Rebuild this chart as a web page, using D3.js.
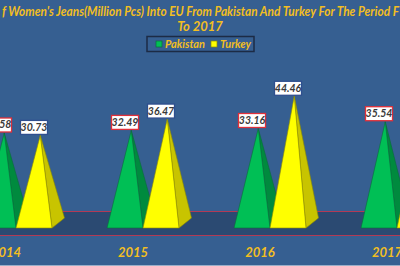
<!DOCTYPE html>
<html><head><meta charset="utf-8">
<script src="https://cdn.jsdelivr.net/npm/d3@7"></script>
<style>html,body{margin:0;padding:0;background:#365F91;overflow:hidden}</style>
</head><body>
<svg id="c" width="400" height="266"></svg>
<script>
const categories = ["2014","2015","2016","2017"];
const seriesNames = ["Pakistan","Turkey"];
const pakistan = [31.58, 32.49, 33.16, 35.54];
const turkey = [30.73, 36.47, 44.46, 38.20];
const titleParts = ["Export O", "f Women's Jeans(Million Pcs) Into EU From Pakistan And Turkey For The Period F", "rom 2014"];
const titleLine2 = "To 2017";

const colors = {Pakistan:{front:"#00BF55", side:"#008A3E", edge:"#0A6B3A", box:"#E0303A"},
                Turkey:{front:"#FFFF00", side:"#C8C400", edge:"#8F8C00", box:"#2F4F8F"}};
const gold = "#F2BE22";
const font = "Lato, 'Open Sans', sans-serif";

const svg = d3.select("#c");
const W = 400, H = 266;
svg.append("rect").attr("width",W).attr("height",H).attr("fill","#365F91");

// floor
const floorTop = 211, floorBot = 235;
svg.append("rect").attr("x",0).attr("y",floorTop).attr("width",W).attr("height",floorBot-floorTop).attr("fill","#2B4A72");
[floorTop, floorBot].forEach(y=>svg.append("line").attr("x1",0).attr("x2",W).attr("y1",y+0.5).attr("y2",y+0.5).attr("stroke","#B23A55").attr("stroke-width",1));
svg.append("line").attr("x1",0).attr("x2",W).attr("y1",265.5).attr("y2",265.5).attr("stroke","#9AAEC8").attr("stroke-width",1);

const x = d3.scaleBand().domain(categories).range([-47.5, 460.5]).paddingInner(0).paddingOuter(0);
const xs = d3.scaleBand().domain(seriesNames).range([-36, 36]);
const y = d3.scaleLinear().domain([0, 50]).range([223, 80.5]);
const baseY = 228, dx = 12.5, dy = 10;

const data = categories.map((c,i)=>({cat:c, vals:[{s:"Pakistan",v:pakistan[i]},{s:"Turkey",v:turkey[i]}]}));

const g = svg.append("g");
data.forEach(d=>{
  const cx = x(d.cat) + x.bandwidth()/2;
  d.vals.forEach(p=>{
    const x0 = cx + xs(p.s), w = xs.bandwidth();
    const apex = [x0 + w/2 + dx/2, y(p.v)];
    const fl = [x0, baseY], fr = [x0+w, baseY], br = [x0+w+dx, baseY-dy];
    const col = colors[p.s];
    g.append("path").attr("d", d3.line()([fr, br, apex])+"Z").attr("fill",col.side).attr("stroke",col.edge).attr("stroke-width",0.6);
    g.append("path").attr("d", d3.line()([fl, fr, apex])+"Z").attr("fill",col.front).attr("stroke",col.edge).attr("stroke-width",0.6);
  });
});
// labels on top
data.forEach(d=>{
  const cx = x(d.cat) + x.bandwidth()/2;
  d.vals.forEach(p=>{
    const lx = cx + xs(p.s) + xs.bandwidth()/2;
    const top = y(p.v);
    const bw = 27, bh = 14;
    g.append("rect").attr("x",lx-bw/2).attr("y",top-bh-1).attr("width",bw).attr("height",bh)
      .attr("fill","#fff").attr("stroke",colors[p.s].box).attr("stroke-width",1.3);
    g.append("text").attr("x",lx).attr("y",top-4.5).attr("text-anchor","middle")
      .attr("font-family",font).attr("font-weight","bold").attr("font-style","italic").attr("font-size",10.5)
      .attr("fill","#3A3A3A").text(p.v.toFixed(2));
  });
  svg.append("text").attr("x",cx-10).attr("y",257).attr("text-anchor","middle")
    .attr("font-family",font).attr("font-weight","bold").attr("font-style","italic").attr("font-size",13)
    .attr("fill",gold).text(d.cat);
});

// title (line 1 runs past both edges, as in the reference)
const tAttrs = t => t.attr("font-family",font).attr("font-weight","bold").attr("font-style","italic").attr("font-size",13).attr("fill",gold);
tAttrs(svg.append("text").attr("x",-1).attr("y",16).attr("text-anchor","end")).text(titleParts[0]);
tAttrs(svg.append("text").attr("x",2).attr("y",16).attr("textLength",397).attr("lengthAdjust","spacingAndGlyphs")).text(titleParts[1]);
tAttrs(svg.append("text").attr("x",401).attr("y",16)).text(titleParts[2]);
tAttrs(svg.append("text").attr("x",200).attr("y",30.5).attr("text-anchor","middle")).text(titleLine2);

// legend
const lg = svg.append("g");
lg.append("rect").attr("x",147).attr("y",36.5).attr("width",107).attr("height",15).attr("fill","none").attr("stroke","#1C2B45").attr("stroke-width",1.5);
const items = [{s:"Pakistan",x:156},{s:"Turkey",x:211}];
items.forEach(it=>{
  lg.append("rect").attr("x",it.x).attr("y",41).attr("width",6).attr("height",6).attr("fill",colors[it.s].front).attr("stroke",colors[it.s].edge).attr("stroke-width",0.7);
  lg.append("text").attr("x",it.x+9).attr("y",48).attr("font-family",font).attr("font-weight","bold").attr("font-style","italic").attr("font-size",11).attr("fill",gold).text(it.s);
});
</script>
</body></html>
